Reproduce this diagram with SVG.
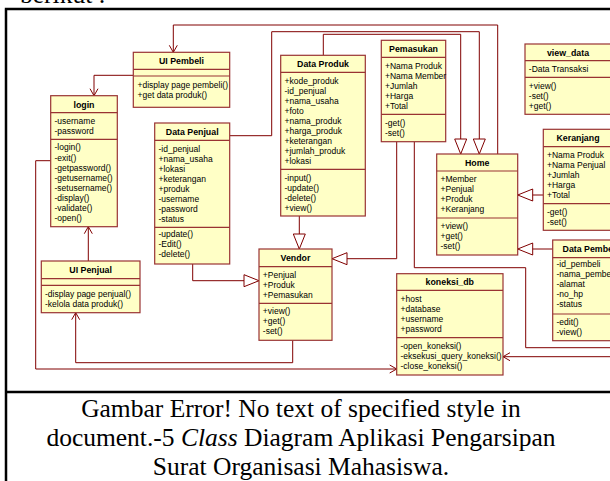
<svg xmlns="http://www.w3.org/2000/svg" width="610" height="481" viewBox="0 0 610 481">
<defs>
<style>
.bx{fill:#FFFFC6;stroke:#993333;stroke-width:1.2}
.sp{stroke:#993333;stroke-width:1.2}
.t{font-family:"Liberation Sans",Arial,sans-serif;font-size:8.5px;fill:#000}
.h{font-family:"Liberation Sans",Arial,sans-serif;font-size:8.8px;font-weight:bold;fill:#000;text-anchor:middle}
.c{fill:none;stroke:#800000;stroke-width:1}
.gen{marker-end:url(#tri)}
.nav{marker-end:url(#vee)}
.cap{font-family:"Liberation Serif","Times New Roman",serif;font-size:25.5px;fill:#000;text-anchor:middle}
.fr{stroke:#000;stroke-width:2.5;fill:none}
</style>
<marker id="tri" markerUnits="userSpaceOnUse" markerWidth="17" markerHeight="15" viewBox="0 0 17 15" refX="16" refY="7.5" orient="auto">
<path d="M16,7.5 L1,1.5 L1,13.5 Z" fill="#fff" stroke="#800000" stroke-width="1"/>
</marker>
<marker id="vee" markerUnits="userSpaceOnUse" markerWidth="10" markerHeight="10" viewBox="0 0 10 10" refX="8.5" refY="5" orient="auto">
<path d="M1.5,1 L8.5,5 L1.5,9" fill="none" stroke="#800000" stroke-width="1"/>
</marker>
</defs>
<rect width="610" height="481" fill="#fff"/>

<text x="20" y="2.5" font-family="Liberation Serif,serif" font-size="25.5" fill="#000">berikut :</text>

<g id="frame">
<path class="fr" d="M6,9 V481 M4.8,9 H612 M4.8,392 H612"/>
</g>

<g id="connectors">
<path class="c nav" d="M497.7,154 V25 H173.3 V52.3"/>
<path class="c nav" d="M133.3,75.3 H94 V95.7"/>
<path class="c nav" d="M88.3,261 V226.7"/>
<path class="c nav" d="M292.7,340.3 V362.7 H75.7 V312.7"/>
<path class="c nav" d="M50.7,160.7 H35.7 V369 H396.7"/>
<path class="c gen" d="M229.7,135.7 H271.7 V31.7 H479.3 V154"/>
<path class="c gen" d="M323.3,55.3 V34.3 H460.7 V154"/>
<path class="c gen" d="M299.3,216 V249"/>
<path class="c gen" d="M192.7,264 V280.7 H259"/>
<path class="c gen" d="M396.7,141.7 V258.7 H332"/>
<path class="c" d="M414.3,141.7 V267.7 H525.7 V347.7 H612"/>
<path class="c nav" d="M612,356.7 H503"/>
<path class="c gen" d="M543.3,195 H517.7"/>
<path class="c gen" d="M552.7,249 H517.7"/>
</g>

<g id="ui_pembeli">
<rect class="bx" x="133.3" y="52.3" width="96.4" height="55"/>
<path class="sp" d="M133.3,69.3 H229.7 M133.3,76 H229.7"/>
<text class="h" x="181.5" y="64">UI Pembeli</text>
<text class="t" x="137.5" y="88">+display page pembeli()</text>
<text class="t" x="137.5" y="98.3">+get data produk()</text>
</g>

<g id="login">
<rect class="bx" x="50.7" y="95.7" width="66.6" height="131"/>
<path class="sp" d="M50.7,112.7 H117.3 M50.7,139.3 H117.3"/>
<text class="h" x="84" y="107.5">login</text>
<text class="t" x="54.5" y="124">-username</text>
<text class="t" x="54.5" y="134">-password</text>
<text class="t" x="54.5" y="150">-login()</text>
<text class="t" x="54.5" y="160.5">-exit()</text>
<text class="t" x="54.5" y="171">-getpassword()</text>
<text class="t" x="54.5" y="181">-getusername()</text>
<text class="t" x="54.5" y="191">-setusername()</text>
<text class="t" x="54.5" y="201">-display()</text>
<text class="t" x="54.5" y="211">-validate()</text>
<text class="t" x="54.5" y="221">-open()</text>
</g>

<g id="data_penjual">
<rect class="bx" x="154.7" y="123" width="75" height="141"/>
<path class="sp" d="M154.7,140.3 H229.7 M154.7,227.3 H229.7"/>
<text class="h" x="192.2" y="134.5">Data Penjual</text>
<text class="t" x="158.5" y="151.7">-id_penjual</text>
<text class="t" x="158.5" y="161.7">+nama_usaha</text>
<text class="t" x="158.5" y="171.7">+lokasi</text>
<text class="t" x="158.5" y="181.7">+keterangan</text>
<text class="t" x="158.5" y="191.7">+produk</text>
<text class="t" x="158.5" y="201.7">-username</text>
<text class="t" x="158.5" y="211.7">-password</text>
<text class="t" x="158.5" y="221.7">-status</text>
<text class="t" x="158.5" y="237.3">-update()</text>
<text class="t" x="158.5" y="247.3">-Edit()</text>
<text class="t" x="158.5" y="257.3">-delete()</text>
</g>

<g id="data_produk">
<rect class="bx" x="280.7" y="55.3" width="84.6" height="160.7"/>
<path class="sp" d="M280.7,72.3 H365.3 M280.7,169.3 H365.3"/>
<text class="h" x="323" y="67">Data Produk</text>
<text class="t" x="284.5" y="84">+kode_produk</text>
<text class="t" x="284.5" y="94">-id_penjual</text>
<text class="t" x="284.5" y="104">+nama_usaha</text>
<text class="t" x="284.5" y="114">+foto</text>
<text class="t" x="284.5" y="124">+nama_produk</text>
<text class="t" x="284.5" y="134">+harga_produk</text>
<text class="t" x="284.5" y="144">+keterangan</text>
<text class="t" x="284.5" y="154">+jumlah_produk</text>
<text class="t" x="284.5" y="164">+lokasi</text>
<text class="t" x="284.5" y="181.3">-input()</text>
<text class="t" x="284.5" y="191.3">-update()</text>
<text class="t" x="284.5" y="201.3">-delete()</text>
<text class="t" x="284.5" y="211.3">+view()</text>
</g>

<g id="pemasukan">
<rect class="bx" x="381.3" y="40.3" width="64.4" height="101.4"/>
<path class="sp" d="M381.3,57.3 H445.7 M381.3,114.3 H445.7"/>
<text class="h" x="413.5" y="52">Pemasukan</text>
<text class="t" x="385" y="69">+Nama Produk</text>
<text class="t" x="385" y="79">+Nama Member</text>
<text class="t" x="385" y="89">+Jumlah</text>
<text class="t" x="385" y="99">+Harga</text>
<text class="t" x="385" y="109">+Total</text>
<text class="t" x="385" y="126.3">-get()</text>
<text class="t" x="385" y="136.3">-set()</text>
</g>

<g id="view_data">
<rect class="bx" x="525" y="44" width="86" height="70.3"/>
<path class="sp" d="M525,60.7 H611 M525,77.3 H611"/>
<text class="h" x="568" y="55.5">view_data</text>
<text class="t" x="528.8" y="72.3">-Data Transaksi</text>
<text class="t" x="528.8" y="89">+view()</text>
<text class="t" x="528.8" y="99">-set()</text>
<text class="t" x="528.8" y="109">+get()</text>
</g>

<g id="keranjang">
<rect class="bx" x="543.3" y="129.3" width="70" height="101"/>
<path class="sp" d="M543.3,146.7 H613.3 M543.3,203.7 H613.3"/>
<text class="h" x="578" y="141">Keranjang</text>
<text class="t" x="547" y="158">+Nama Produk</text>
<text class="t" x="547" y="168">+Nama Penjual</text>
<text class="t" x="547" y="178">+Jumlah</text>
<text class="t" x="547" y="188">+Harga</text>
<text class="t" x="547" y="198">+Total</text>
<text class="t" x="547" y="215.3">-get()</text>
<text class="t" x="547" y="225.3">-set()</text>
</g>

<g id="home">
<rect class="bx" x="436.7" y="154" width="81" height="101"/>
<path class="sp" d="M436.7,171 H517.7 M436.7,218 H517.7"/>
<text class="h" x="477.2" y="165.5">Home</text>
<text class="t" x="440.5" y="182.3">+Member</text>
<text class="t" x="440.5" y="192.3">+Penjual</text>
<text class="t" x="440.5" y="202.3">+Produk</text>
<text class="t" x="440.5" y="212.3">+Keranjang</text>
<text class="t" x="440.5" y="229.3">+view()</text>
<text class="t" x="440.5" y="239.3">+get()</text>
<text class="t" x="440.5" y="249.3">-set()</text>
</g>

<g id="data_pembeli">
<rect class="bx" x="552.7" y="240" width="75" height="100.7"/>
<path class="sp" d="M552.7,257.7 H627.7 M552.7,314 H627.7"/>
<text class="h" x="590.2" y="251.5">Data Pembeli</text>
<text class="t" x="556.5" y="267.3">-id_pembeli</text>
<text class="t" x="556.5" y="277.3">-nama_pembeli</text>
<text class="t" x="556.5" y="287.3">-alamat</text>
<text class="t" x="556.5" y="297.3">-no_hp</text>
<text class="t" x="556.5" y="307.3">-status</text>
<text class="t" x="556.5" y="324.7">-edit()</text>
<text class="t" x="556.5" y="334.7">-view()</text>
</g>

<g id="vendor">
<rect class="bx" x="259" y="249" width="73" height="91.3"/>
<path class="sp" d="M259,266.7 H332 M259,303.3 H332"/>
<text class="h" x="295.5" y="261">Vendor</text>
<text class="t" x="262.8" y="278">+Penjual</text>
<text class="t" x="262.8" y="288">+Produk</text>
<text class="t" x="262.8" y="298">+Pemasukan</text>
<text class="t" x="262.8" y="314">+view()</text>
<text class="t" x="262.8" y="324">+get()</text>
<text class="t" x="262.8" y="334">-set()</text>
</g>

<g id="ui_penjual">
<rect class="bx" x="41.3" y="261" width="98.7" height="51.7"/>
<path class="sp" d="M41.3,278.7 H140 M41.3,285.3 H140"/>
<text class="h" x="90.6" y="273">UI Penjual</text>
<text class="t" x="45" y="297.3">-display page penjual()</text>
<text class="t" x="45" y="307.3">-kelola data produk()</text>
</g>

<g id="koneksi_db">
<rect class="bx" x="396.7" y="273.7" width="106.3" height="101.3"/>
<path class="sp" d="M396.7,290.3 H503 M396.7,337.7 H503"/>
<text class="h" x="449.8" y="285">koneksi_db</text>
<text class="t" x="400.5" y="301.7">+host</text>
<text class="t" x="400.5" y="311.7">+database</text>
<text class="t" x="400.5" y="321.7">+username</text>
<text class="t" x="400.5" y="331.7">+password</text>
<text class="t" x="400.5" y="348.7">-open_koneksi()</text>
<text class="t" x="400.5" y="358.7">-eksekusi_query_koneksi()</text>
<text class="t" x="400.5" y="368.7">-close_koneksi()</text>
</g>

<g id="caption">
<text class="cap" x="301" y="417">Gambar Error! No text of specified style in</text>
<text class="cap" x="301" y="446">document.-5 <tspan font-style="italic">Class</tspan> Diagram Aplikasi Pengarsipan</text>
<text class="cap" x="301" y="475">Surat Organisasi Mahasiswa.</text>
</g>
</svg>
